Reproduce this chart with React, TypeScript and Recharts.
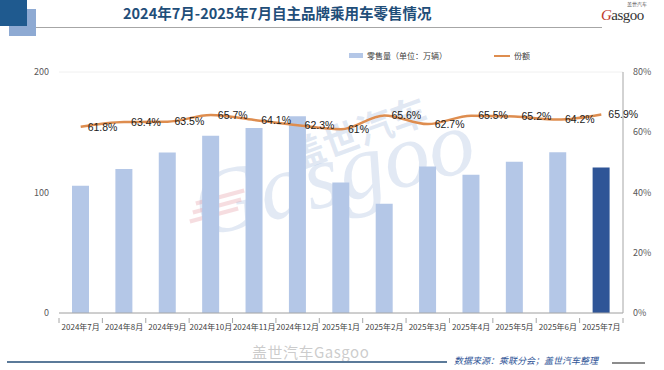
import React from 'react';
import { ComposedChart, Bar, Line, XAxis, YAxis, CartesianGrid, Cell, LabelList } from 'recharts';

const months = [
  '2024年7月', '2024年8月', '2024年9月', '2024年10月', '2024年11月', '2024年12月',
  '2025年1月', '2025年2月', '2025年3月', '2025年4月', '2025年5月', '2025年6月', '2025年7月',
];
// 零售量（万辆）
const retail = [105.6, 119.4, 133.2, 147.0, 153.6, 163.3, 108.3, 90.6, 121.6, 114.7, 125.5, 133.5, 120.7];
// 份额（%）
const share = [61.8, 63.4, 63.5, 65.7, 64.1, 62.3, 61, 65.6, 62.7, 65.5, 65.2, 64.2, 65.9];
const leftTicks = [0, 100, 200];
const rightTicks = [0, 20, 40, 60, 80];

const data = months.map((m, i) => ({ month: m, retail: retail[i], share: share[i] }));

const W = 664;
const H = 370;
const PLOT_LEFT = 59;
const PLOT_RIGHT = 623;
const BAND = (PLOT_RIGHT - PLOT_LEFT) / months.length;

const BAR_COLOR = '#b4c7e7';
const LAST_BAR = '#2f5597';
const LINE_COLOR = '#de8d4f';
const FONT = '"Noto Sans CJK SC", "Liberation Sans", sans-serif';

const XTick = (props: any) => {
  const { x, y, payload, index } = props;
  return (
    <g>
      <line x1={x - BAND / 2} x2={x - BAND / 2} y1={y - 3} y2={y + 2} stroke="#a6a6a6" />
      {index === months.length - 1 && (
        <line x1={x + BAND / 2} x2={x + BAND / 2} y1={y - 3} y2={y + 2} stroke="#a6a6a6" />
      )}
      <text x={x} y={y + 9} textAnchor="middle" fontSize={8} fill="#404040" fontFamily={FONT}>
        {payload.value}
      </text>
    </g>
  );
};

export default function App() {
  return (
    <div style={{ position: 'absolute', left: 0, top: 0, width: W, height: H, background: '#fff', overflow: 'hidden', fontFamily: FONT }}>
      {/* header decoration */}
      <div style={{ position: 'absolute', left: 9, top: 9, width: 27, height: 27, background: '#8eaad3' }} />
      <div style={{ position: 'absolute', left: 0, top: 0, width: 27, height: 26, background: '#1f5a8f' }} />
      <div style={{ position: 'absolute', left: 36, top: 27, width: 566, height: 1, background: '#a6a6a6' }} />
      <div style={{ position: 'absolute', left: 123, top: 2, width: 294, textAlign: 'center', fontSize: 14.5, fontWeight: 700, color: '#1f4e79', whiteSpace: 'nowrap' }}>
        2024年7月-2025年7月自主品牌乘用车零售情况
      </div>
      {/* logo */}
      <div style={{ position: 'absolute', left: 627, top: 1, fontSize: 5, lineHeight: '5px', color: '#555' }}>盖世汽车</div>
      <div style={{ position: 'absolute', left: 601, top: 8, fontSize: 15, lineHeight: '15px', fontFamily: 'Liberation Serif, serif', color: '#333', letterSpacing: -0.5 }}>
        <span style={{ color: '#c0392b', fontStyle: 'italic' }}>G</span>asgoo
      </div>

      {/* legend */}
      <div style={{ position: 'absolute', left: 349, top: 50, display: 'flex', alignItems: 'center', fontSize: 8, color: '#404040' }}>
        <span style={{ display: 'inline-block', width: 14, height: 5, background: BAR_COLOR, marginRight: 4 }} />
        零售量（单位：万辆）
      </div>
      <div style={{ position: 'absolute', left: 494, top: 50, display: 'flex', alignItems: 'center', fontSize: 8, color: '#404040' }}>
        <span style={{ display: 'inline-block', width: 16, height: 2, background: LINE_COLOR, marginRight: 4 }} />
        份额
      </div>

      {/* watermark */}
      <div style={{ position: 'absolute', left: 190, top: 120, transform: 'rotate(-14deg)', fontSize: 92, fontFamily: 'Liberation Serif, serif', color: 'rgba(150,175,215,0.28)', pointerEvents: 'none', fontStyle: 'italic' }}>
        Gasgoo
      </div>
      <div style={{ position: 'absolute', left: 285, top: 105, transform: 'rotate(-20deg)', fontSize: 36, fontWeight: 700, color: 'rgba(150,175,215,0.28)', pointerEvents: 'none' }}>
        盖世汽车
      </div>
      <div style={{ position: 'absolute', left: 195, top: 195, width: 50, height: 4, transform: 'rotate(-15deg)', background: 'rgba(220,120,130,0.25)' }} />
      <div style={{ position: 'absolute', left: 192, top: 204, width: 50, height: 4, transform: 'rotate(-15deg)', background: 'rgba(220,120,130,0.25)' }} />
      <div style={{ position: 'absolute', left: 189, top: 213, width: 50, height: 4, transform: 'rotate(-15deg)', background: 'rgba(220,120,130,0.25)' }} />

      <ComposedChart
        width={W}
        height={H}
        data={data}
        margin={{ top: 72, right: 1, bottom: 37, left: 19 }}
        style={{ position: 'absolute', left: 0, top: 0 }}
      >
        <CartesianGrid vertical={false} stroke="#f0f0f0" />
        <XAxis
          dataKey="month"
          interval={0}
          height={20}
          tickLine={false}
          axisLine={{ stroke: '#a6a6a6' }}
          tick={<XTick />}
        />
        <YAxis
          yAxisId="left"
          domain={[0, 200]}
          ticks={leftTicks}
          width={40}
          axisLine={false}
          tickLine={false}
          tick={{ fontSize: 9, fill: '#595959', fontFamily: FONT }}
          tickMargin={4}
        />
        <YAxis
          yAxisId="right"
          orientation="right"
          domain={[0, 80]}
          ticks={rightTicks}
          width={40}
          axisLine={{ stroke: '#a6a6a6' }}
          tickLine={false}
          tickFormatter={(v: number) => `${v}%`}
          tick={{ fontSize: 9, fill: '#595959', fontFamily: FONT }}
          tickMargin={4}
        />
        <Bar yAxisId="left" dataKey="retail" barSize={17} isAnimationActive={false}>
          {data.map((_, i) => (
            <Cell key={i} fill={i === data.length - 1 ? LAST_BAR : BAR_COLOR} />
          ))}
        </Bar>
        <Line
          yAxisId="right"
          dataKey="share"
          type="monotone"
          stroke={LINE_COLOR}
          strokeWidth={2.5}
          dot={false}
          isAnimationActive={false}
        >
          <LabelList
            dataKey="share"
            position="right"
            offset={7}
            formatter={(v: any) => `${v}%`}
            style={{ fontSize: 10.5, fill: '#1a1a1a', fontFamily: '"Liberation Sans", Arial, sans-serif' }}
          />
        </Line>
      </ComposedChart>

      {/* footer */}
      <div style={{ position: 'absolute', left: 252, top: 341, fontSize: 15, color: 'rgba(170,170,170,0.6)', letterSpacing: 0.5 }}>
        盖世汽车Gasgoo
      </div>
      <div style={{ position: 'absolute', left: 7, top: 361, width: 440, height: 1.5, background: '#5b7a99' }} />
      <div style={{ position: 'absolute', left: 454, top: 354, fontSize: 9, fontStyle: 'italic', color: '#2f5597' }}>
        数据来源：乘联分会；盖世汽车整理
      </div>
      <div style={{ position: 'absolute', left: 612, top: 362, width: 33, height: 2, background: '#8c8c8c' }} />
    </div>
  );
}
